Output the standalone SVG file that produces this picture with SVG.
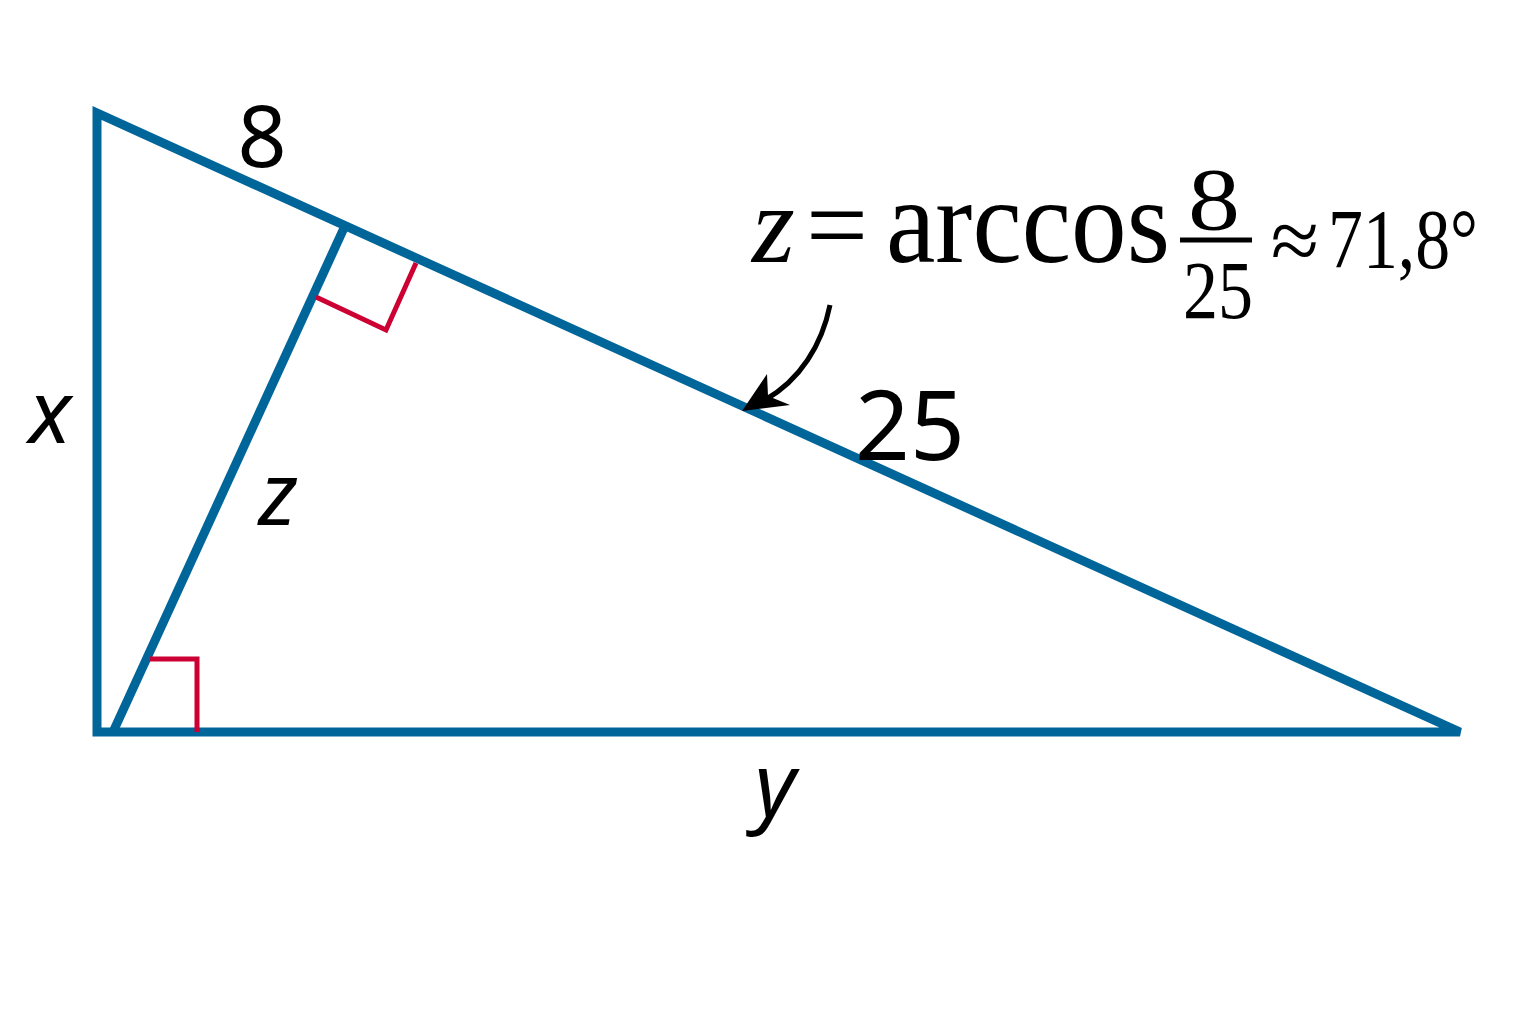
<svg xmlns="http://www.w3.org/2000/svg" width="1536" height="1024" viewBox="0 0 1536 1024">
<style>
.edge{fill:none;stroke:#006699;stroke-width:9;stroke-linejoin:miter}
.ra{fill:none;stroke:#cc0033;stroke-width:5}
.sans{font-family:"Noto Sans","DejaVu Sans",sans-serif;fill:#000}
.ital{font-family:"Noto Sans","DejaVu Sans",sans-serif;font-style:italic;fill:#000}
.serif{font-family:"Liberation Serif","DejaVu Serif",serif;fill:#000}
</style>
<rect width="1536" height="1024" fill="#fff"/>
<g id="triangle">
<polygon class="edge" points="97,113 97,732 1460,732"/>
</g>
<g id="altitude">
<line class="edge" x1="113" y1="732" x2="344" y2="228"/>
</g>
<g id="right-angles">
<polyline class="ra" points="316,297 386,330 416,263"/>
<polyline class="ra" points="150,659 197,659 197,732"/>
</g>
<g id="connectors">
<path d="M830,305 C822,345 800,380 765,400" fill="none" stroke="#000" stroke-width="5"/>
<path d="M742,411 L767,374 L768,396 L790,405 Z" fill="#000"/>
</g>
<g id="labels">
<text class="sans" x="262" y="167" font-size="86" text-anchor="middle">8</text>
<text class="sans" x="910" y="460" font-size="96" text-anchor="middle">25</text>
<text class="ital" x="50" y="443" font-size="88" text-anchor="middle">x</text>
<text class="ital" x="278" y="525" font-size="88" text-anchor="middle">z</text>
<text class="ital" x="775" y="816" font-size="88" text-anchor="middle">y</text>
</g>
<g id="formula">
<text class="serif" x="752" y="262" font-size="110" font-style="italic">z</text>
<text class="serif" x="837" y="262" font-size="110" text-anchor="middle">=</text>
<text class="serif" x="886" y="262" font-size="120" textLength="284" lengthAdjust="spacingAndGlyphs">arccos</text>
<text class="serif" x="1214" y="229" font-size="88" text-anchor="middle" textLength="52" lengthAdjust="spacingAndGlyphs">8</text>
<line x1="1180" y1="240" x2="1252" y2="240" stroke="#000" stroke-width="5"/>
<text class="serif" x="1218" y="318" font-size="82" text-anchor="middle" textLength="70" lengthAdjust="spacingAndGlyphs">25</text>
<text class="serif" x="1295" y="270" font-size="88" text-anchor="middle">≈</text>
<text class="serif" x="1328" y="268" font-size="84" textLength="150" lengthAdjust="spacingAndGlyphs">71,8°</text>
</g>
</svg>
